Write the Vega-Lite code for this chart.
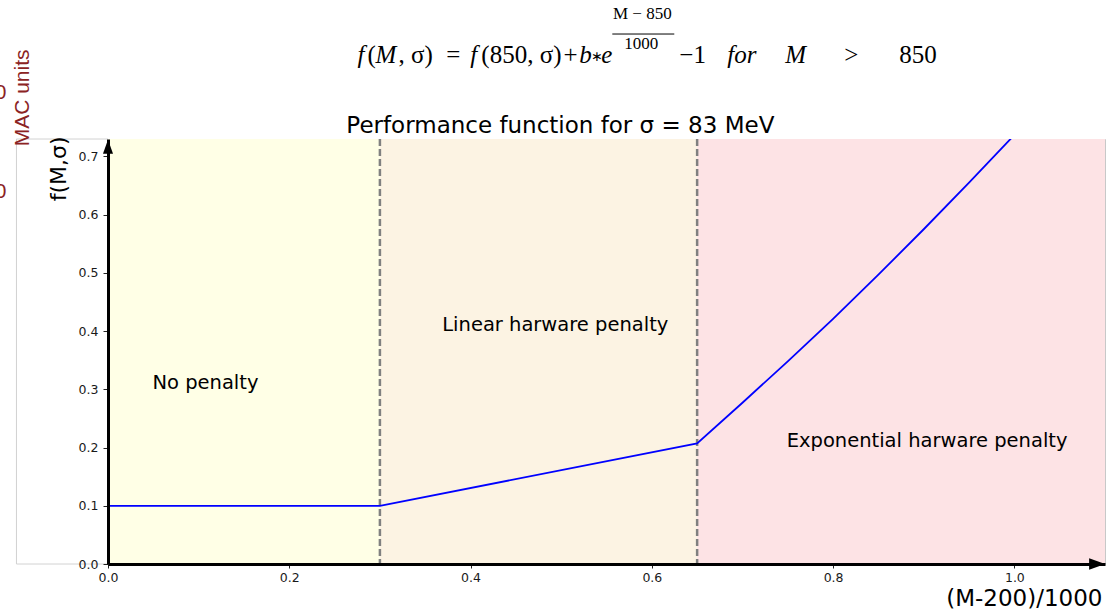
{
  "$schema": "https://vega.github.io/schema/vega-lite/v6.json",
  "width": 997,
  "height": 425,
  "autosize": {"type": "none"},
  "padding": {"left": 108, "top": 139, "right": 1, "bottom": 50},
  "background": "white",
  "config": {
    "view": {"stroke": "#c8c8c8", "strokeWidth": 1},
    "font": "DejaVu Sans"
  },
  "datasets": {
    "regions": [
      {"x": 0, "x2": 0.3, "region": "none"},
      {"x": 0.3, "x2": 0.65, "region": "linear"},
      {"x": 0.65, "x2": 1.1, "region": "exp"}
    ],
    "frame": [
      {"x": -0.101, "x2": -0.101, "y": 0, "y2": 0.73},
      {"x": -0.101, "x2": 0, "y": 0.73, "y2": 0.73},
      {"x": -0.101, "x2": 0, "y": 0, "y2": 0}
    ],
    "cuts": [{"x": 0.3}, {"x": 0.65}],
    "curve": [
      {"x": 0, "y": 0.1},
      {"x": 0.3, "y": 0.1},
      {"x": 0.65, "y": 0.207},
      {"x": 0.7, "y": 0.277},
      {"x": 0.75, "y": 0.348},
      {"x": 0.8, "y": 0.421},
      {"x": 0.85, "y": 0.497},
      {"x": 0.9, "y": 0.575},
      {"x": 0.95, "y": 0.655},
      {"x": 1.0, "y": 0.737},
      {"x": 1.05, "y": 0.822}
    ],
    "notes": [
      {"x": 0.1075, "y": 0.3103, "t": "No penalty"},
      {"x": 0.4935, "y": 0.4097, "t": "Linear harware penalty"},
      {"x": 0.9037, "y": 0.2109, "t": "Exponential harware penalty"}
    ],
    "heading": [
      {"x": 0.4991, "y": 0.7406, "t": "Performance function for σ = 83 MeV"}
    ],
    "formula": [
      {"x": 0.2752, "y": 0.8606, "t": "f", "s": "i"},
      {"x": 0.2862, "y": 0.8606, "t": "(", "s": "n"},
      {"x": 0.2950, "y": 0.8606, "t": "M", "s": "i"},
      {"x": 0.3204, "y": 0.8606, "t": ", σ)", "s": "n"},
      {"x": 0.3733, "y": 0.8606, "t": "=", "s": "n"},
      {"x": 0.3998, "y": 0.8606, "t": "f", "s": "i"},
      {"x": 0.4119, "y": 0.8606, "t": "(850, σ)", "s": "n"},
      {"x": 0.5025, "y": 0.8606, "t": "+", "s": "n"},
      {"x": 0.5200, "y": 0.8606, "t": "b", "s": "i"},
      {"x": 0.5443, "y": 0.8606, "t": "e", "s": "i"},
      {"x": 0.6303, "y": 0.8606, "t": "−1", "s": "n"},
      {"x": 0.6833, "y": 0.8606, "t": "for", "s": "i"},
      {"x": 0.7473, "y": 0.8606, "t": "M", "s": "i"},
      {"x": 0.8124, "y": 0.8606, "t": ">", "s": "n"},
      {"x": 0.8730, "y": 0.8606, "t": "850", "s": "n"}
    ],
    "star": [{"x": 0.5333, "y": 0.8606, "t": "∗"}],
    "fraction": [
      {"x": 0.5895, "y": 0.936, "t": "M − 850"},
      {"x": 0.5884, "y": 0.8846, "t": "1000"}
    ],
    "bar": [{"x": 0.5564, "x2": 0.6248, "y": 0.9103}],
    "side": [{"x": -0.0943, "y": 0.8006, "t": "MAC units"}],
    "cutoff": [
      {"x": -0.1186, "y": 0.809, "t": "0"},
      {"x": -0.1186, "y": 0.6395, "t": "0"}
    ],
    "arrowY": [{"x": 0, "y": 0.7046}],
    "arrowX": [{"x": 1.0825, "y": 0}]
  },
  "layer": [
    {
      "data": {"name": "regions"},
      "mark": {"type": "rect"},
      "encoding": {
        "x": {"field": "x", "type": "quantitative"},
        "x2": {"field": "x2"},
        "color": {
          "field": "region",
          "type": "nominal",
          "legend": null,
          "scale": {"domain": ["none", "linear", "exp"], "range": ["#FFFFE6", "#FCF3E3", "#FDE3E5"]}
        }
      }
    },
    {
      "data": {"name": "frame"},
      "mark": {"type": "rule", "color": "#d2d2d2", "strokeWidth": 1},
      "encoding": {
        "x": {"field": "x", "type": "quantitative"},
        "x2": {"field": "x2"},
        "y": {"field": "y", "type": "quantitative"},
        "y2": {"field": "y2"}
      }
    },
    {
      "data": {"name": "cuts"},
      "mark": {"type": "rule", "color": "#808080", "strokeWidth": 2.5, "strokeDash": [7, 3]},
      "encoding": {
        "x": {"field": "x", "type": "quantitative"}
      }
    },
    {
      "data": {"name": "curve"},
      "mark": {"type": "line", "color": "#0000FF", "strokeWidth": 1.8, "clip": true},
      "encoding": {
        "x": {
          "field": "x",
          "type": "quantitative",
          "scale": {"domain": [0, 1.1], "nice": false, "zero": false},
          "axis": {
            "title": "(M-200)/1000",
            "values": [0, 0.2, 0.4, 0.6, 0.8, 1.0],
            "format": ".1f",
            "grid": false,
            "labelFlush": false,
            "domainColor": "black",
            "domainWidth": 3,
            "tickColor": "#222",
            "tickSize": 4,
            "tickWidth": 1,
            "labelFont": "DejaVu Sans",
            "labelFontSize": 12.5,
            "labelColor": "#1a1a1a",
            "labelPadding": 3,
            "titleFont": "DejaVu Sans",
            "titleFontSize": 23,
            "titleFontWeight": "normal",
            "titleColor": "black",
            "titleAnchor": "end",
            "titleAlign": "right",
            "titleBaseline": "alphabetic",
            "titleX": 994,
            "titleY": 41,
            "zindex": 1
          }
        },
        "y": {
          "field": "y",
          "type": "quantitative",
          "scale": {"domain": [0, 0.73], "nice": false, "zero": false},
          "axis": {
            "title": "f(M,σ)",
            "values": [0, 0.1, 0.2, 0.3, 0.4, 0.5, 0.6, 0.7],
            "format": ".1f",
            "grid": false,
            "labelFlush": false,
            "domainColor": "black",
            "domainWidth": 3,
            "tickColor": "#222",
            "tickSize": 5,
            "tickWidth": 1,
            "labelFont": "DejaVu Sans",
            "labelFontSize": 12.5,
            "labelColor": "#1a1a1a",
            "labelPadding": 5,
            "titleFont": "DejaVu Sans",
            "titleFontSize": 22,
            "titleFontWeight": "normal",
            "titleColor": "black",
            "titleAnchor": "end",
            "titleAngle": 270,
            "titleAlign": "right",
            "titleBaseline": "middle",
            "titleX": -49.5,
            "titleY": -3,
            "zindex": 1
          }
        }
      }
    },
    {
      "data": {"name": "notes"},
      "mark": {"type": "text", "font": "DejaVu Sans", "fontSize": 19.5, "color": "black", "align": "center", "baseline": "middle"},
      "encoding": {
        "x": {"field": "x", "type": "quantitative"},
        "y": {"field": "y", "type": "quantitative"},
        "text": {"field": "t"}
      }
    },
    {
      "data": {"name": "heading"},
      "mark": {"type": "text", "font": "DejaVu Sans", "fontSize": 23, "color": "black", "align": "center", "baseline": "alphabetic"},
      "encoding": {
        "x": {"field": "x", "type": "quantitative"},
        "y": {"field": "y", "type": "quantitative"},
        "text": {"field": "t"}
      }
    },
    {
      "data": {"name": "arrowY"},
      "mark": {"type": "point", "shape": "M0,-1L0.36,0L-0.36,0Z", "size": 784, "filled": true, "color": "black", "opacity": 1, "strokeWidth": 0},
      "encoding": {
        "x": {"field": "x", "type": "quantitative"},
        "y": {"field": "y", "type": "quantitative"}
      }
    },
    {
      "data": {"name": "arrowX"},
      "mark": {"type": "point", "shape": "M1,0L0,-0.36L0,0.36Z", "size": 1024, "filled": true, "color": "black", "opacity": 1, "strokeWidth": 0},
      "encoding": {
        "x": {"field": "x", "type": "quantitative"},
        "y": {"field": "y", "type": "quantitative"}
      }
    },
    {
      "data": {"name": "formula"},
      "transform": [{"filter": "datum.s === 'i'"}],
      "mark": {"type": "text", "font": "Liberation Serif", "fontStyle": "italic", "fontSize": 25, "color": "black", "align": "left", "baseline": "alphabetic"},
      "encoding": {
        "x": {"field": "x", "type": "quantitative"},
        "y": {"field": "y", "type": "quantitative"},
        "text": {"field": "t"}
      }
    },
    {
      "data": {"name": "formula"},
      "transform": [{"filter": "datum.s === 'n'"}],
      "mark": {"type": "text", "font": "Liberation Serif", "fontSize": 25, "color": "black", "align": "left", "baseline": "alphabetic"},
      "encoding": {
        "x": {"field": "x", "type": "quantitative"},
        "y": {"field": "y", "type": "quantitative"},
        "text": {"field": "t"}
      }
    },
    {
      "data": {"name": "star"},
      "mark": {"type": "text", "font": "DejaVu Sans", "fontSize": 14, "color": "black", "align": "left", "baseline": "alphabetic", "dy": -2},
      "encoding": {
        "x": {"field": "x", "type": "quantitative"},
        "y": {"field": "y", "type": "quantitative"},
        "text": {"field": "t"}
      }
    },
    {
      "data": {"name": "fraction"},
      "mark": {"type": "text", "font": "Liberation Serif", "fontSize": 17, "color": "black", "align": "center", "baseline": "alphabetic"},
      "encoding": {
        "x": {"field": "x", "type": "quantitative"},
        "y": {"field": "y", "type": "quantitative"},
        "text": {"field": "t"}
      }
    },
    {
      "data": {"name": "bar"},
      "mark": {"type": "rule", "color": "black", "strokeWidth": 1},
      "encoding": {
        "x": {"field": "x", "type": "quantitative"},
        "x2": {"field": "x2"},
        "y": {"field": "y", "type": "quantitative"}
      }
    },
    {
      "data": {"name": "side"},
      "mark": {"type": "text", "font": "Liberation Sans", "fontSize": 21, "color": "#8B2323", "angle": 270, "align": "center", "baseline": "middle"},
      "encoding": {
        "x": {"field": "x", "type": "quantitative"},
        "y": {"field": "y", "type": "quantitative"},
        "text": {"field": "t"}
      }
    },
    {
      "data": {"name": "cutoff"},
      "mark": {"type": "text", "font": "Liberation Sans", "fontSize": 21, "color": "#8B2323", "align": "center", "baseline": "middle"},
      "encoding": {
        "x": {"field": "x", "type": "quantitative"},
        "y": {"field": "y", "type": "quantitative"},
        "text": {"field": "t"}
      }
    }
  ]
}
